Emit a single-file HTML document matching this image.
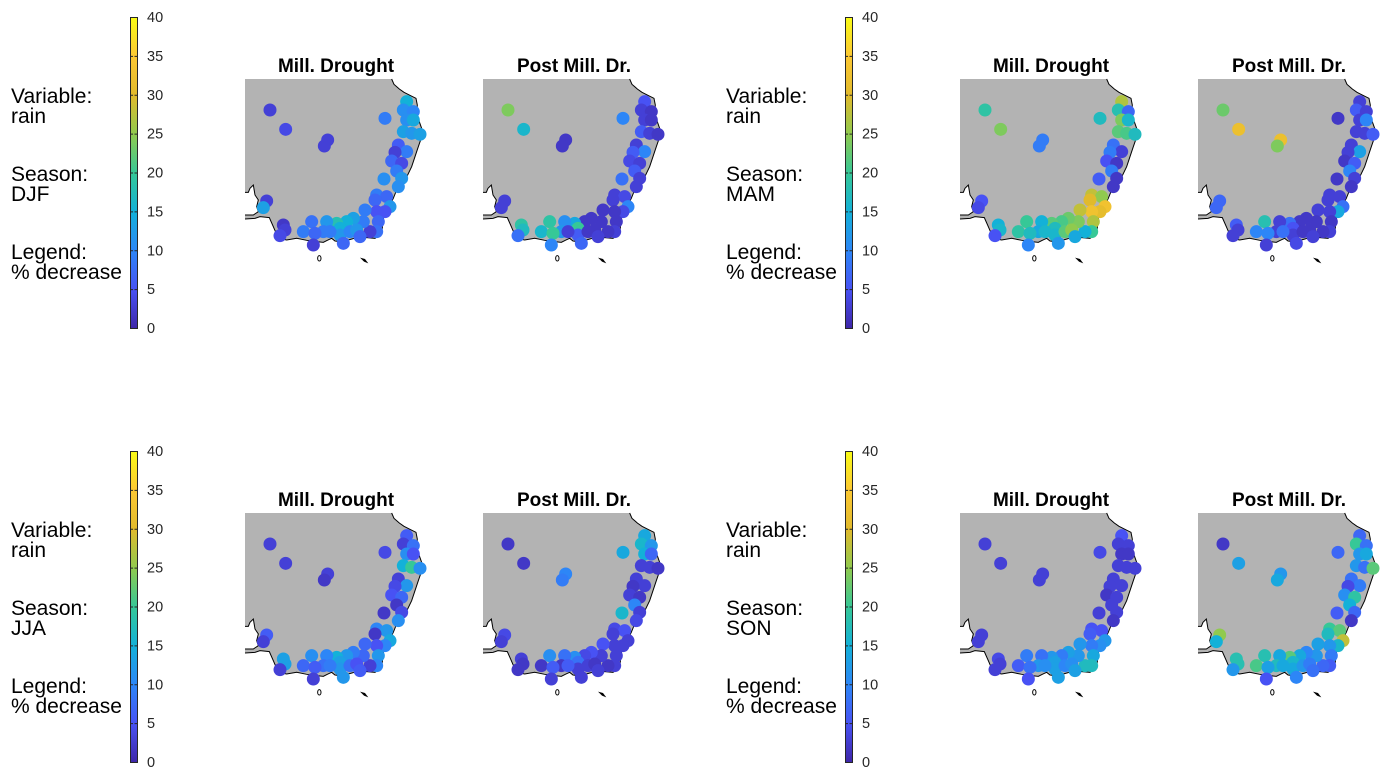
<!DOCTYPE html>
<html><head><meta charset="utf-8"><style>
html,body{margin:0;padding:0;background:#fff;}
svg{display:block;font-family:"Liberation Sans",Arial,sans-serif;}
</style></head><body>
<svg id="fig" width="1391" height="782" viewBox="0 0 1391 782">
<defs>
<linearGradient id="parula" x1="0" y1="1" x2="0" y2="0">
<stop offset="0" stop-color="#3e26a8"/><stop offset="0.125" stop-color="#4852f4"/><stop offset="0.25" stop-color="#2d86f7"/><stop offset="0.375" stop-color="#13b1d8"/><stop offset="0.5" stop-color="#36c897"/><stop offset="0.625" stop-color="#90ca4e"/><stop offset="0.75" stop-color="#e1ba2c"/><stop offset="0.875" stop-color="#fcc833"/><stop offset="1" stop-color="#f9fb15"/>
</linearGradient>
</defs>
</svg>
<script>
const stationLon=[90,137,263,253,435,500,490,520,500,520,490,515,540,475,500,465,455,485,470,485,475,432,410,440,405,450,435,410,375,415,410,390,370,340,320,290,300,260,250,215,190,225,300,330,350,310,220,130,135,120,80,70,360,270];
const stationLat=[105,163,195,213,130,80,105,110,135,135,170,175,178,210,230,232,258,265,288,310,335,312,360,365,375,395,410,410,405,440,470,470,440,430,440,445,460,440,470,440,470,475,480,470,465,505,510,450,465,482,378,398,485,470];
const seasons=["DJF","MAM","JJA","SON"];
const mapTitles=["Mill. Drought","Post Mill. Dr."];
const cbTicks=[0,5,10,15,20,25,30,35,40];
const valDJFMill=[3,4,3,3,9,15,11,10,11,14,13,12,13,6,9,3,7,4,9,12,11,11,9,7,7,12,5,5,9,7,8,3,9,13,15,18,15,12,9,8,9,7,12,10,12,7,3,2,3,4,3,13,7,9];
const valDJFPost=[24,16,2,2,10,5,3,2,3,2,6,3,2,3,10,6,4,3,6,3,3,8,3,4,3,10,4,2,2,2,3,2,2,2,2,14,20,11,12,19,16,20,6,2,2,7,10,19,17,8,3,3,3,3];
const valMAMMill=[19,24,9,9,17,27,18,7,24,16,22,21,17,8,3,9,5,2,9,2,2,6,28,25,30,33,31,33,28,27,20,15,24,23,21,22,17,15,14,20,19,17,16,22,25,12,10,15,16,5,5,4,14,16];
const valMAMPost=[23,32,32,24,2,3,6,3,3,10,3,3,6,3,13,3,2,6,10,3,2,2,3,3,3,8,14,3,3,2,3,2,2,2,2,8,5,3,3,18,10,10,3,2,2,4,3,6,3,3,7,7,3,8];
const valJJAMill=[3,3,3,2,4,6,3,8,11,5,15,20,11,3,12,4,5,7,2,4,11,2,10,12,2,14,10,5,7,12,10,3,7,9,12,15,13,10,8,11,7,6,12,8,5,12,3,13,13,3,6,3,6,9];
const valJJAPost=[2,2,10,9,14,14,16,12,15,7,3,3,2,3,3,2,3,2,10,3,4,16,4,5,3,3,3,3,5,3,3,2,3,5,4,11,8,8,2,11,2,6,3,3,2,3,3,3,2,2,4,3,3,6];
const valSONMill=[3,3,3,3,4,5,3,3,2,2,3,3,3,3,3,3,2,3,3,3,2,3,5,5,6,12,11,9,12,14,17,17,12,13,9,12,13,8,12,9,6,8,13,10,11,13,5,4,3,3,3,3,13,11];
const valSONPost=[2,13,12,14,7,7,20,8,12,14,12,8,22,8,9,4,11,19,15,7,2,6,20,22,17,28,16,12,13,9,6,7,12,10,14,22,16,14,17,18,21,13,14,12,9,10,5,18,18,12,25,15,8,14];
const allVals=[[valDJFMill,valDJFPost],[valMAMMill,valMAMPost],[valJJAMill,valJJAPost],[valSONMill,valSONPost]];

const NS="http://www.w3.org/2000/svg";
const svg=document.getElementById('fig');
function mk(tag,attrs,parent){const e=document.createElementNS(NS,tag);for(const k in attrs)e.setAttribute(k,attrs[k]);(parent||svg).appendChild(e);return e;}
const stops=[[62,38,168],[72,82,244],[45,134,247],[19,177,216],[54,200,151],[144,202,78],[225,186,44],[252,200,51],[249,251,21]];
function color(v){let t=Math.max(0,Math.min(1,v/40))*8;const i=Math.min(7,Math.floor(t));const f=t-i;const a=stops[i],b=stops[i+1];return `rgb(${Math.round(a[0]+(b[0]-a[0])*f)},${Math.round(a[1]+(b[1]-a[1])*f)},${Math.round(a[2]+(b[2]-a[2])*f)})`;}
function xMap(lon){return lon/3;}
function yMap(lat){return lat/3;}
const land="15,12 455,12 462,28 478,42 492,52 512,62 528,70 532,90 530,115 538,140 545,160 548,182 542,195 535,215 525,245 515,275 503,300 490,320 470,345 460,370 445,398 432,420 428,450 425,475 405,490 380,488 350,488 325,495 300,500 285,498 275,490 262,496 250,502 230,500 200,496 170,490 140,495 115,490 100,455 88,428 60,425 45,430 15,432 15,420 40,420 55,410 50,395 55,375 45,360 40,330 30,340 25,352 15,352";
const coast="455,12 462,28 478,42 492,52 512,62 528,70 532,90 530,115 538,140 545,160 548,182 542,195 535,215 525,245 515,275 503,300 490,320 470,345 460,370 445,398 432,420 428,450 425,475 405,490 380,488 350,488 325,495 300,500 285,498 275,490 262,496 250,502 230,500 200,496 170,490 140,495 115,490 100,455 88,428 60,425 45,430 15,432";
const coast2="15,420 40,420 55,410 50,395 55,375 45,360 40,330 30,340 25,352 15,352";

for(let p=0;p<4;p++){
  const ox=(p%2)*715, oy=Math.floor(p/2)*434;
  const panel=mk('g',{transform:`translate(${ox},${oy})`});
  
  
  const lines=[["Variable:",103],["rain",123],["Season:",181],[seasons[p],201],["Legend:",259],["% decrease",279]];
  lines.forEach(([t,y],i)=>{const e=mk('text',{x:11,y:y,'font-size':21,fill:'#000'},panel);e.textContent=t;
    
    });
  const cb=mk('rect',{x:130.5,y:17.5,width:7,height:311,fill:'url(#parula)',stroke:'#262626','stroke-width':1},panel);
  
  
  cbTicks.forEach(v=>{const y=328-v/40*311;
    mk('line',{x1:137,x2:134.5,y1:y+0.5,y2:y+0.5,stroke:'#262626','stroke-width':1},panel);
    mk('line',{x1:130.5,x2:133,y1:y+0.5,y2:y+0.5,stroke:'#262626','stroke-width':1},panel);
    const t=mk('text',{x:147,y:y+5,'font-size':14.5,fill:'#262626'},panel);t.textContent=v;
    
    });
  for(let m=0;m<2;m++){
    const mx=240+m*238;
    const title=mk('text',{x:mx+96,y:72,'font-size':19,'font-weight':'bold','text-anchor':'middle',fill:'#000'},panel);
    title.textContent=mapTitles[m];
    
    
    const g=mk('g',{transform:`translate(${mx},75)`},panel);
    
    
    const gs=mk('g',{transform:'scale(0.3333)'},g);
    mk('polygon',{points:land,fill:'#b3b3b3'},gs);
    mk('polyline',{points:coast,fill:'none',stroke:'#000','stroke-width':3},gs);
    mk('polyline',{points:coast2,fill:'none',stroke:'#000','stroke-width':3},gs);
    mk('ellipse',{cx:238,cy:550,rx:5,ry:8,fill:'none',stroke:'#000','stroke-width':3},gs);
    mk('path',{d:'M360,548 L375,552 L385,565 L372,560 Z',fill:'#000'},gs);
    const vals=allVals[p][m];
    vals.forEach((v,i)=>{const c=mk('circle',{cx:xMap(stationLon[i]),cy:yMap(stationLat[i]),r:6.5,fill:color(v)},g);
      
      });
  }
}
</script>
</body></html>
